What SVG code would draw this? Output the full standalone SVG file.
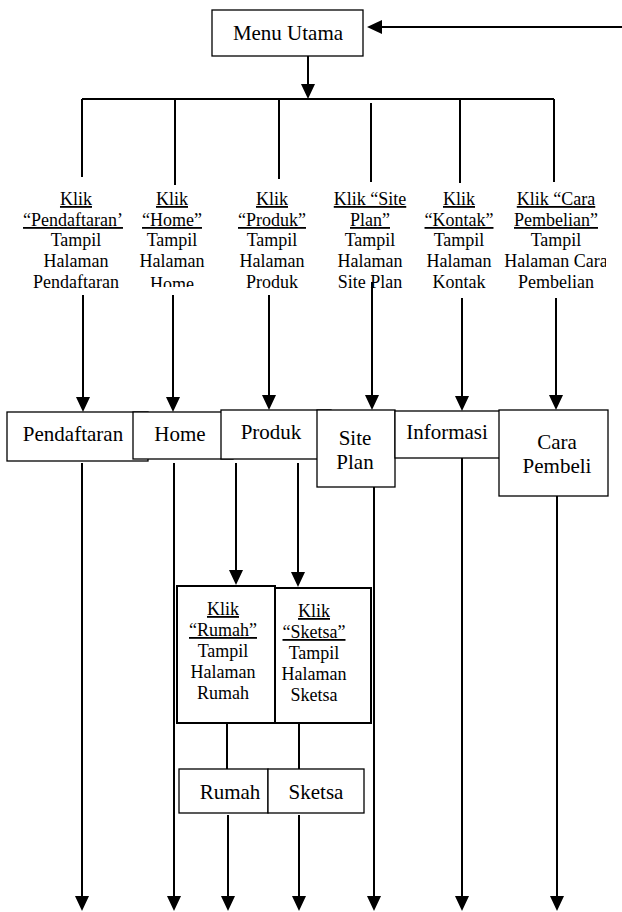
<svg xmlns="http://www.w3.org/2000/svg" width="622" height="912" viewBox="0 0 622 912">
<style>
.bx{fill:#fff;stroke:#000;stroke-width:1.3}
.bx2{fill:#fff;stroke:#000;stroke-width:2}
.c{stroke:#000;stroke-width:2;fill:none}
.a{marker-end:url(#ah)}
.t{font-family:"Liberation Serif","Times New Roman",serif;font-size:21px;fill:#000;text-anchor:middle}
.l{font-family:"Liberation Serif","Times New Roman",serif;font-size:18px;fill:#000;text-anchor:middle}
.u{text-decoration:underline}
</style>
<defs>
<marker id="ah" markerUnits="userSpaceOnUse" markerWidth="15" markerHeight="15" refX="12" refY="7" orient="auto">
<path d="M0,0 L15,7 L0,14 z" fill="#000"/>
</marker>
<clipPath id="clipHome"><rect x="120" y="180" width="110" height="107"/></clipPath>
<clipPath id="clipCara"><rect x="490" y="180" width="116" height="120"/></clipPath>
</defs>
<g id="connectors">
<line class="c a" x1="622" y1="27" x2="370" y2="27"/>
<line class="c a" x1="308" y1="56" x2="308" y2="96"/>
<line class="c" x1="82" y1="99" x2="554" y2="99"/>
<line class="c" x1="82" y1="99" x2="82" y2="177"/>
<line class="c" x1="175" y1="99" x2="175" y2="185"/>
<line class="c" x1="279" y1="99" x2="279" y2="179"/>
<line class="c" x1="371" y1="103" x2="371" y2="182"/>
<line class="c" x1="460" y1="99" x2="460" y2="183"/>
<line class="c" x1="554" y1="99" x2="554" y2="182"/>
<line class="c a" x1="83" y1="295" x2="83" y2="409"/>
<line class="c a" x1="173" y1="295" x2="173" y2="409"/>
<line class="c a" x1="269" y1="295" x2="269" y2="407"/>
<line class="c a" x1="372" y1="282" x2="372" y2="407"/>
<line class="c a" x1="462" y1="298" x2="462" y2="408"/>
<line class="c a" x1="556" y1="298" x2="556" y2="407"/>
<line class="c a" x1="236" y1="463" x2="236" y2="582"/>
<line class="c a" x1="298" y1="463" x2="298" y2="584"/>
<line class="c" x1="227" y1="723" x2="227" y2="769"/>
<line class="c" x1="299" y1="723" x2="299" y2="769"/>
<line class="c a" x1="82" y1="463" x2="82" y2="908"/>
<line class="c a" x1="174" y1="463" x2="174" y2="908"/>
<line class="c a" x1="228" y1="815" x2="228" y2="908"/>
<line class="c a" x1="299" y1="815" x2="299" y2="908"/>
<line class="c a" x1="374" y1="487" x2="374" y2="908"/>
<line class="c a" x1="462" y1="458" x2="462" y2="908"/>
<line class="c a" x1="557" y1="496" x2="557" y2="908"/>
</g>
<g id="menu-utama">
<rect class="bx" x="212" y="10" width="151" height="46"/>
<text class="t" x="288" y="40">Menu Utama</text>
</g>
<g id="label-pendaftaran">
<text class="l u" x="76" y="205">Klik</text>
<text class="l u" x="73" y="226">“Pendaftaran’</text>
<text class="l" x="76" y="246">Tampil</text>
<text class="l" x="76" y="267">Halaman</text>
<text class="l" x="76" y="288">Pendaftaran</text>
</g>
<g id="label-home">
<text class="l u" x="172" y="205">Klik</text>
<text class="l u" x="172" y="226">“Home”</text>
<text class="l" x="172" y="246">Tampil</text>
<text class="l" x="172" y="267">Halaman</text>
<text class="l" x="172" y="290" clip-path="url(#clipHome)">Home</text>
</g>
<g id="label-produk">
<text class="l u" x="272" y="205">Klik</text>
<text class="l u" x="272" y="226">“Produk”</text>
<text class="l" x="272" y="246">Tampil</text>
<text class="l" x="272" y="267">Halaman</text>
<text class="l" x="272" y="288">Produk</text>
</g>
<g id="label-siteplan">
<text class="l u" x="370" y="205">Klik “Site</text>
<text class="l u" x="370" y="226">Plan”</text>
<text class="l" x="370" y="246">Tampil</text>
<text class="l" x="370" y="267">Halaman</text>
<text class="l" x="370" y="288">Site Plan</text>
</g>
<g id="label-kontak">
<text class="l u" x="459" y="205">Klik</text>
<text class="l u" x="459" y="226">“Kontak”</text>
<text class="l" x="459" y="246">Tampil</text>
<text class="l" x="459" y="267">Halaman</text>
<text class="l" x="459" y="288">Kontak</text>
</g>
<g id="label-cara">
<text class="l u" x="556" y="205">Klik “Cara</text>
<text class="l u" x="556" y="226">Pembelian”</text>
<text class="l" x="556" y="246">Tampil</text>
<text class="l" x="556" y="267" clip-path="url(#clipCara)">Halaman Cara</text>
<text class="l" x="556" y="288">Pembelian</text>
</g>
<g id="pendaftaran">
<rect class="bx" x="7" y="412" width="141" height="49"/>
<text class="t" x="73" y="441">Pendaftaran</text>
</g>
<g id="home">
<rect class="bx" x="133" y="412" width="100" height="47"/>
<text class="t" x="180" y="441">Home</text>
</g>
<g id="produk">
<rect class="bx" x="221" y="410" width="110" height="49"/>
<text class="t" x="271" y="439">Produk</text>
</g>
<g id="site-plan">
<rect class="bx" x="317" y="410" width="78" height="77"/>
<text class="t" x="355" y="445">Site</text>
<text class="t" x="355" y="469">Plan</text>
</g>
<g id="informasi">
<rect class="bx" x="395" y="411" width="128" height="47"/>
<text class="t" x="447" y="439">Informasi</text>
</g>
<g id="cara-pembeli">
<rect class="bx" x="499" y="410" width="109" height="86"/>
<text class="t" x="557" y="449">Cara</text>
<text class="t" x="557" y="473">Pembeli</text>
</g>
<g id="label-rumah">
<rect class="bx2" x="177" y="586" width="98" height="137"/>
<text class="l u" x="223" y="615">Klik</text>
<text class="l u" x="223" y="636">“Rumah”</text>
<text class="l" x="223" y="657">Tampil</text>
<text class="l" x="223" y="678">Halaman</text>
<text class="l" x="223" y="699">Rumah</text>
</g>
<g id="label-sketsa">
<rect class="bx2" x="275" y="588" width="96" height="135"/>
<text class="l u" x="314" y="617">Klik</text>
<text class="l u" x="314" y="638">“Sketsa”</text>
<text class="l" x="314" y="659">Tampil</text>
<text class="l" x="314" y="680">Halaman</text>
<text class="l" x="314" y="701">Sketsa</text>
</g>
<g id="rumah">
<rect class="bx" x="179" y="769" width="89" height="44"/>
<text class="t" x="230" y="799">Rumah</text>
</g>
<g id="sketsa">
<rect class="bx" x="268" y="769" width="96" height="44"/>
<text class="t" x="316" y="799">Sketsa</text>
</g>
</svg>
